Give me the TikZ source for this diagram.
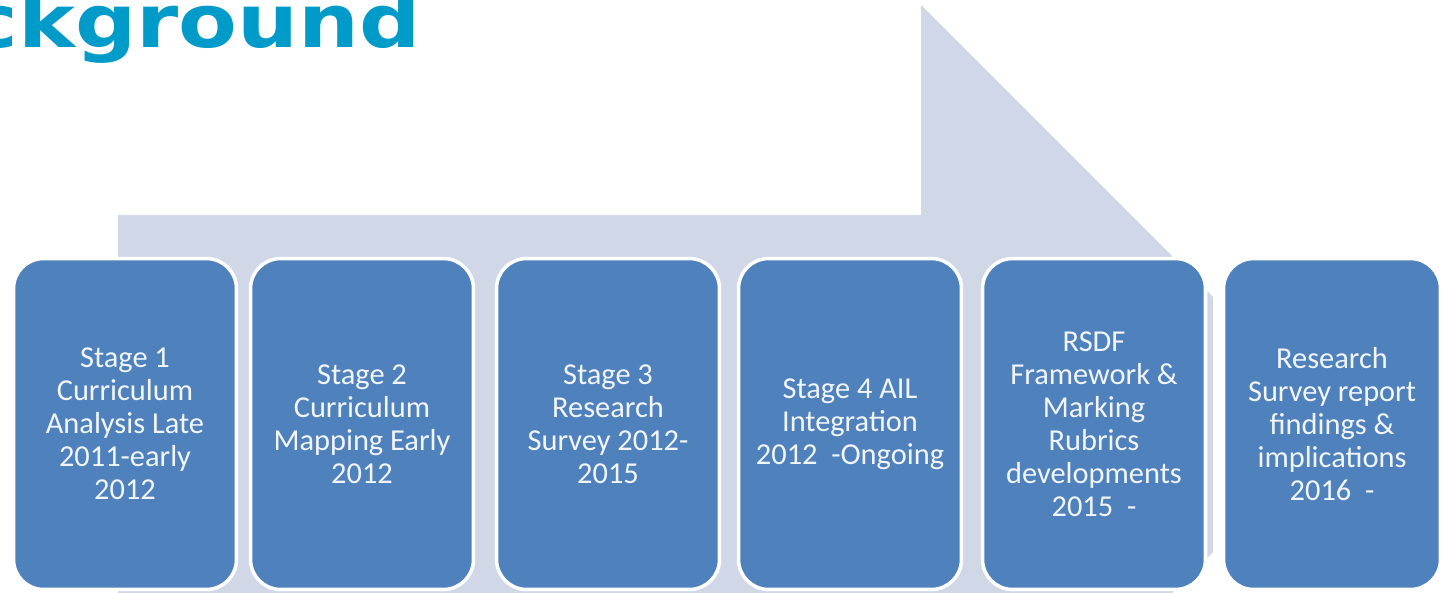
\documentclass[tikz,border=0pt]{standalone}
\usepackage{fontspec}
\setmainfont{Carlito}
\newfontfamily\titlefont{DejaVu Sans}
\definecolor{arrowfill}{HTML}{D0D8E8}
\definecolor{boxfill}{HTML}{4F81BD}
\definecolor{titleblue}{HTML}{009BC9}
\definecolor{boxtext}{HTML}{F2F6FC}
\begin{document}
\begin{tikzpicture}[x=0.02cm,y=-0.02cm,
  stagebox/.style={draw=white, line width=2pt, fill=boxfill, rounded corners=0.6cm,
    minimum width=4.46cm, minimum height=6.62cm, align=center, text=boxtext,
    font=\fontsize{17.3}{18.8}\selectfont, inner sep=2pt},
  titletext/.style={anchor=base east, inner sep=0pt, text=titleblue,
    font=\titlefont\bfseries\fontsize{42}{42}\selectfont}]
\useasboundingbox (0,0) rectangle (1443,592);
\clip (0,0) rectangle (1443,592);
% background block arrow
\fill[arrowfill] (118,215) -- (921,215) -- (921,5) -- (1213,297) -- (1213,552) -- (1165,600) -- (118,600) -- cycle;
% title (cropped)
\node[titletext] (title) at (421,47) {\scalebox{1.16}[1]{ckground}};
% stages
\node[stagebox] (s1) at (125,424) {Stage 1\\Curriculum\\Analysis Late\\2011-early\\2012};
\node[stagebox] (s2) at (362,424) {Stage 2\\Curriculum\\Mapping Early\\2012};
\node[stagebox] (s3) at (608,424) {Stage 3\\Research\\Survey 2012-\\2015};
\node[stagebox] (s4) at (850,424) {Stage 4 AIL\\Integration\\2012 \ -Ongoing};
\node[stagebox] (s5) at (1094,424) {RSDF\\Framework \&\\Marking\\Rubrics\\developments\\2015 \ -};
\node[stagebox, minimum width=4.34cm] (s6) at (1332,424) {Research\\Survey report\\findings \&\\implications\\2016 \ -};
\end{tikzpicture}
\end{document}
